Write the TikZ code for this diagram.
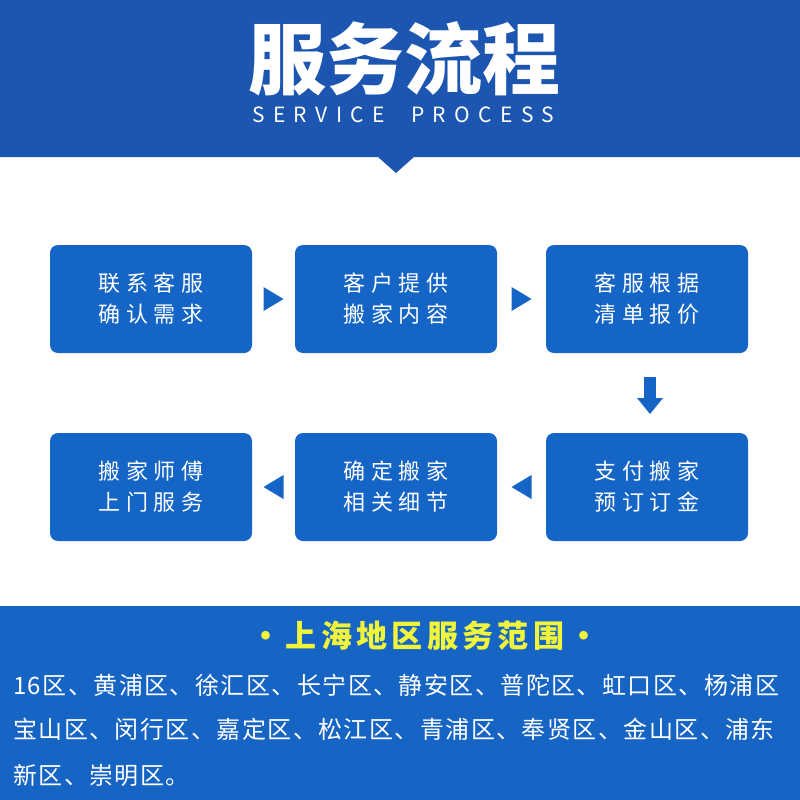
\documentclass[tikz,border=0pt]{standalone}
\usepackage{fontspec}
\usetikzlibrary{positioning,calc}
\newfontfamily\cjk{Noto Sans CJK SC}
\newfontfamily\cjkwide[LetterSpace=25]{Noto Sans CJK SC}
\newfontfamily\cjkhead[LetterSpace=14]{Noto Sans CJK SC}
\newfontfamily\cjklist[LetterSpace=6]{Noto Sans CJK SC}
\newfontfamily\latinwide[LetterSpace=40]{Noto Sans CJK SC}
\definecolor{band}{HTML}{1D56B1}
\definecolor{boxblue}{HTML}{1565C6}
\definecolor{areablue}{HTML}{1664C4}
\definecolor{areayellow}{HTML}{F0F53C}

\begin{document}
\begin{tikzpicture}[x=1pt,y=-1pt,
  stepbox/.style={fill=boxblue,rounded corners=8pt,minimum width=202pt,minimum height=108pt,
    inner sep=0pt,text=white,align=center,font=\cjkwide\fontsize{22}{31}\selectfont},
  subword/.style={anchor=west,inner sep=0pt,text=white,font=\latinwide\fontsize{21}{24}\selectfont},
  tri/.style={fill=boxblue},
  listline/.style={anchor=west,inner sep=0pt,text=white,font=\cjklist\fontsize{24}{28}\selectfont}]
  \useasboundingbox (0,0) rectangle (800,800);

  % Header band with notch
  \fill[band] (0,0) -- (800,0) -- (800,157) -- (414,157) -- (396,173) -- (378,157) -- (0,157) -- cycle;
  \node[text=white,font=\cjk\bfseries\fontsize{78}{80}\selectfont] (title) at (404,59) {服务流程};
  \node[subword] (sub1) at (252,115) {SERVICE};
  \node[subword] (sub2) at (411,115) {PROCESS};

  % Steps, first row
  \node[stepbox] (s1) at (151,299) {联系客服\\确认需求};
  \node[stepbox] (s2) at (396,299) {客户提供\\搬家内容};
  \node[stepbox] (s3) at (647,299) {客服根据\\清单报价};
  % Steps, second row
  \node[stepbox] (s4) at (151,487) {搬家师傅\\上门服务};
  \node[stepbox] (s5) at (396,487) {确定搬家\\相关细节};
  \node[stepbox] (s6) at (647,487) {支付搬家\\预订订金};

  % Arrows between steps
  \fill[tri] ($(s1.east)!0.5!(s2.west)+(-10,-12)$) -- ++(20,12) -- ++(-20,12) -- cycle;
  \fill[tri] ($(s2.east)!0.5!(s3.west)+(-10,-12)$) -- ++(20,12) -- ++(-20,12) -- cycle;
  \coordinate (down) at ($(s3.south)!0.5!(s6.north)+(3,0)$);
  \fill[tri] ($(down)+(-6,-16)$) rectangle ($(down)+(6,6)$);
  \fill[tri] ($(down)+(-13,5)$) -- ++(26,0) -- ++(-13,16) -- cycle;
  \fill[tri] ($(s5.east)!0.5!(s6.west)+(10,-12)$) -- ++(-20,12) -- ++(20,12) -- cycle;
  \fill[tri] ($(s4.east)!0.5!(s5.west)+(10,-12)$) -- ++(-20,12) -- ++(20,12) -- cycle;

  % Service area
  \fill[areablue] (0,606) rectangle (800,800);
  \node[text=areayellow,font=\cjkhead\bfseries\fontsize{31}{34}\selectfont] (area) at (425,636) {·上海地区服务范围·};
  \node[listline] (l1) at (13,685) {16区、黄浦区、徐汇区、长宁区、静安区、普陀区、虹口区、杨浦区};
  \node[listline] (l2) at (13,729) {宝山区、闵行区、嘉定区、松江区、青浦区、奉贤区、金山区、浦东};
  \node[listline] (l3) at (13,775) {新区、崇明区。};
\end{tikzpicture}
\end{document}
